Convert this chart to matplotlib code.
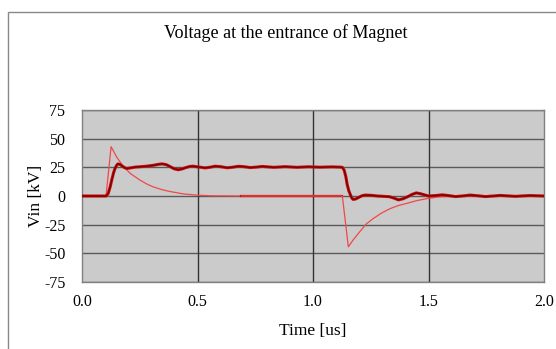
import matplotlib
matplotlib.use('Agg')
import matplotlib.pyplot as plt
from matplotlib.patches import Rectangle

plt.rcParams['font.family'] = ['Liberation Serif', 'DejaVu Serif']
plt.rcParams['axes.unicode_minus'] = False

# main voltage curve (two nearly identical traces)
main_t = [0.0, 0.104, 0.113, 0.122, 0.13, 0.137, 0.143, 0.15, 0.156, 0.165,
          0.175, 0.185, 0.195, 0.21, 0.23, 0.25, 0.28, 0.31, 0.33, 0.347,
          0.365, 0.38, 0.398, 0.416, 0.433, 0.45, 0.465, 0.48, 0.505, 0.533,
          0.555, 0.576, 0.6, 0.628, 0.652, 0.676, 0.7, 0.728, 0.755, 0.78,
          0.83, 0.88, 0.93, 0.98, 1.03, 1.08, 1.115, 1.127, 1.135, 1.142,
          1.148, 1.155, 1.162, 1.168, 1.174, 1.185, 1.2, 1.213, 1.226, 1.25,
          1.28, 1.305, 1.33, 1.35, 1.37, 1.39, 1.41, 1.43, 1.447, 1.465,
          1.5, 1.53, 1.56, 1.59, 1.617, 1.65, 1.68, 1.715, 1.746, 1.78,
          1.81, 1.845, 1.876, 1.91, 1.94, 1.97, 2.0]
main_v = [0.0, 0.0, 2.0, 8.0, 15.0, 20.5, 24.0, 26.8, 28.0, 27.5,
          26.0, 24.6, 24.0, 24.5, 25.2, 25.5, 26.0, 26.8, 27.6, 28.0,
          27.3, 25.8, 23.8, 22.9, 23.6, 24.8, 25.7, 26.0, 25.3, 24.5,
          25.1, 26.0, 25.6, 24.6, 25.1, 25.9, 25.6, 24.8, 25.2, 25.8,
          25.0, 25.6, 25.0, 25.5, 25.1, 25.4, 25.2, 25.0, 22.5, 17.0,
          10.0, 4.5, 1.0, -1.8, -3.0, -2.6, -1.0, 0.3, 0.8, 0.6,
          0.0, -0.3, -0.6, -1.8, -3.4, -2.4, -0.6, 1.5, 2.7, 2.0,
          0.0, 0.4, 1.0, 0.3, -0.5, 0.1, 0.8, 0.2, -0.5, 0.0,
          0.5, 0.1, -0.3, 0.1, 0.4, 0.2, 0.0]

# thin spike trace, first pulse
rise_t = [0.0, 0.104, 0.126, 0.15, 0.178, 0.21, 0.25, 0.28, 0.308, 0.345,
          0.381, 0.44, 0.5, 0.56, 0.69]
rise_v = [0.0, 0.0, 43.0, 34.0, 26.0, 19.5, 14.0, 10.5, 8.0, 5.6,
          3.9, 1.8, 0.7, 0.2, 0.0]

# thin spike trace, second pulse
fall_t = [0.69, 1.127, 1.153, 1.175, 1.205, 1.23, 1.261, 1.3, 1.335, 1.37,
          1.408, 1.45, 1.495, 1.55, 1.7, 2.0]
fall_v = [0.0, 0.0, -44.3, -38.0, -30.5, -24.5, -19.6, -14.5, -10.9, -8.3,
          -6.3, -4.0, -2.2, -0.6, 0.0, 0.0]

x_ticks = [0.0, 0.5, 1.0, 1.5, 2.0]
y_ticks = [-75, -50, -25, 0, 25, 50, 75]

fig = plt.figure(figsize=(5.56, 3.49), dpi=100)
fig.patch.set_facecolor('white')
ax = fig.add_axes([82 / 556, 1 - 282 / 349, 462 / 556, 172 / 349])
ax.set_facecolor('#cbcbcb')

# chart area border
fig.patches.append(Rectangle((8 / 556, -0.05), 1.0, 1 - 12 / 349 + 0.05,
                             transform=fig.transFigure, fill=False,
                             edgecolor='#888888', lw=1.0))

for y in y_ticks:
    ax.axhline(y, color='#5a5a5a', lw=1.0, zorder=1)
for x in x_ticks[1:-1]:
    ax.axvline(x, color='#333333', lw=1.0, zorder=1)

ax.plot(rise_t, rise_v, color='#f04848', lw=0.9, zorder=3)
ax.plot(fall_t[:2], fall_v[:2], color='#cc0000', lw=1.6, zorder=3)
ax.plot(fall_t, fall_v, color='#f04848', lw=0.9, zorder=3)
ax.plot(main_t, main_v, color='#cc1010', lw=2.2, zorder=4)
ax.plot(main_t, main_v, color='#7a0000', lw=1.0, zorder=5)

ax.set_xlim(0, 2.0)
ax.set_ylim(-75, 75)
ax.set_xticks(x_ticks)
ax.set_xticklabels(['%.1f' % x for x in x_ticks])
ax.set_yticks(y_ticks)
ax.tick_params(axis='both', length=0, labelsize=11.5)
ax.tick_params(axis='x', pad=9)
ax.tick_params(axis='y', pad=12)
for s in ax.spines.values():
    s.set_color('#808080')
    s.set_linewidth(1.0)

fig.text(286 / 556, 1 - 33 / 349, 'Voltage at the entrance of Magnet',
         fontsize=13, ha='center', va='center')
ax.set_xlabel('Time [us]', fontsize=12.5, labelpad=9)
ax.set_ylabel('Vin [kV]', fontsize=12.5, labelpad=0)

fig.savefig('out.png', dpi=100)
